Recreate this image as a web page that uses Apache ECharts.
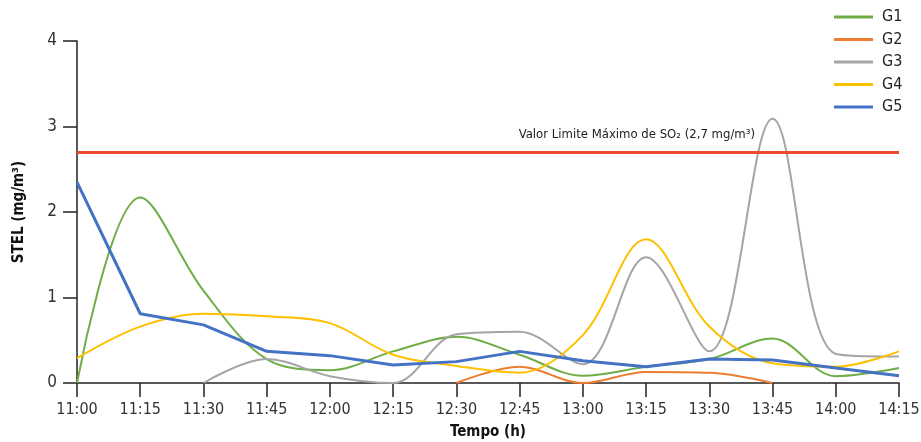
<!DOCTYPE html>
<html>
<head>
<meta charset="utf-8">
<script src="https://cdn.jsdelivr.net/npm/echarts@6/dist/echarts.min.js"></script>
<style>
  html, body { margin: 0; padding: 0; background: #fff; }
  #chart { width: 921px; height: 442px; }
</style>
</head>
<body>
<div id="chart"></div>
<script>
// Sampling times (15-minute steps)
const times = ['11:00', '11:15', '11:30', '11:45', '12:00', '12:15', '12:30',
               '12:45', '13:00', '13:15', '13:30', '13:45', '14:00', '14:15'];

// STEL readings per group (mg/m³); null = no reading
const g1 = [0, 2.17, 1.08, 0.28, 0.15, 0.37, 0.54, 0.33, 0.085, 0.19, 0.28, 0.52, 0.08, 0.175];
const g2 = [null, null, null, null, null, null, 0, 0.19, 0, 0.13, 0.12, 0, null, null];
const g3 = [null, null, 0, 0.28, 0.08, 0, 0.57, 0.6, 0.22, 1.47, 0.37, 3.09, 0.34, 0.31];
const g4 = [0.29, 0.66, 0.81, 0.78, 0.70, 0.33, 0.20, 0.12, 0.56, 1.68, 0.66, 0.23, 0.19, 0.37];
const g5 = [2.35, 0.81, 0.68, 0.37, 0.32, 0.21, 0.25, 0.37, 0.26, 0.19, 0.28, 0.27, 0.175, 0.085];

// SO2 maximum limit value (mg/m³)
const limitSO2 = 2.7;

const yTicks = [0, 1, 2, 3, 4];

const FONT = '"Liberation Sans Narrow", "DejaVu Sans Condensed", "Roboto", sans-serif';

const chart = echarts.init(document.getElementById('chart'), null, { renderer: 'canvas' });

function curve(name, data, color, width, smooth) {
  return {
    name: name,
    type: 'line',
    data: data,
    smooth: smooth,
    symbol: 'none',
    connectNulls: false,
    lineStyle: { color: color, width: width },
    itemStyle: { color: color },
    emphasis: { disabled: true }
  };
}

const series = [
  curve('G1', g1, '#70AD47', 2, 0.35),
  curve('G2', g2, '#ED7D31', 2, 0.35),
  curve('G3', g3, '#A5A5A5', 2, 0.35),
  curve('G4', g4, '#FFC000', 2, 0.35),
  curve('G5', g5, '#4472C4', 3, false)
];

// Limit line drawn as a mark line on the first series
series[0].markLine = {
  silent: true,
  symbol: 'none',
  animation: false,
  lineStyle: { color: '#EE4B2B', width: 3, type: 'solid' },
  label: {
    show: true,
    position: 'insideEndTop',
    distance: [144, 11],
    formatter: 'Valor Limite Máximo de SO₂ (2,7 mg/m³)',
    fontFamily: FONT,
    fontSize: 13,
    color: '#222'
  },
  data: [{ yAxis: limitSO2 }]
};

chart.setOption({
  animation: false,
  backgroundColor: '#fff',
  grid: { left: 77, right: 22, top: 41, bottom: 59, containLabel: false, outerBoundsMode: 'none' },
  legend: {
    orient: 'vertical',
    left: 829,
    top: 4,
    itemWidth: 39,
    itemHeight: 14,
    itemGap: 6.5,
    itemStyle: { borderWidth: 0 },
    data: ['G1', 'G2', 'G3', 'G4', 'G5'].map(n => ({ name: n, icon: 'path://M0,6 L39,6 L39,9 L0,9 Z' })),
    textStyle: { fontFamily: FONT, fontSize: 16, color: '#222', padding: [0, 0, 0, 4] }
  },
  xAxis: {
    type: 'category',
    data: times,
    boundaryGap: false,
    name: 'Tempo (h)',
    nameLocation: 'middle',
    nameGap: 42,
    nameTextStyle: { fontFamily: FONT, fontSize: 15, fontWeight: 'bold', color: '#111' },
    axisLine: { lineStyle: { color: '#222', width: 1.5 } },
    axisTick: { length: 14, lineStyle: { color: '#222', width: 1.5 } },
    axisLabel: { fontFamily: FONT, fontSize: 16, color: '#333', margin: 19, interval: 0 },
    splitLine: { show: false }
  },
  yAxis: {
    type: 'value',
    min: yTicks[0],
    max: yTicks[yTicks.length - 1],
    interval: 1,
    name: 'STEL (mg/m³)',
    nameLocation: 'middle',
    nameGap: 50,
    nameRotate: 90,
    nameTextStyle: { fontFamily: FONT, fontSize: 15, fontWeight: 'bold', color: '#111' },
    axisLine: { show: true, lineStyle: { color: '#222', width: 1.5 } },
    axisTick: { show: true, length: 14, lineStyle: { color: '#222', width: 1.5 } },
    axisLabel: { fontFamily: FONT, fontSize: 17, color: '#333', margin: 20 },
    splitLine: { show: false }
  },
  series: series
});
</script>
</body>
</html>
